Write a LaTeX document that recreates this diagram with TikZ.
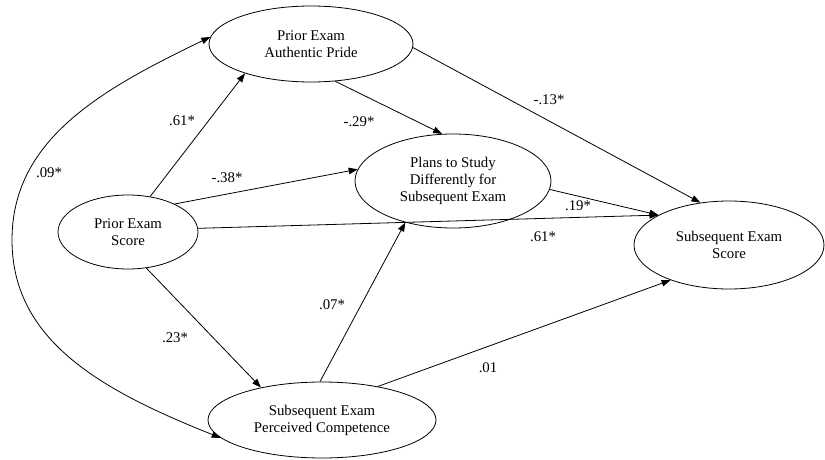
\documentclass[tikz,border=0pt]{standalone}
\usepackage{fontspec}
\setmainfont{Liberation Serif}
\usetikzlibrary{shapes.geometric,arrows.meta}

\tikzset{every picture/.style={line width=0.8pt}}
\tikzset{
	latent/.style={draw, ellipse, inner sep=0pt, align=center, font=\fontsize{14.8}{17}\selectfont},
	coef/.style={inner sep=0.75pt, font=\fontsize{14.8}{17}\selectfont},
	path/.style={-{Triangle[length=9pt,width=6.5pt]}},
	cov/.style={{Triangle[length=9pt,width=6.5pt]}-{Triangle[length=9pt,width=6.5pt]}}
}

\begin{document}
\begin{tikzpicture}[x=1pt,y=1pt,yscale=-1]
	\path[use as bounding box] (0,0) rectangle (825,460);
	
	%Ellipses
	\node [latent, minimum width=204, minimum height=76] (pride) at (311,44) {Prior Exam\\Authentic Pride};
	\node [latent, minimum width=196, minimum height=94] (plans) at (453,181) {Plans to Study\\Differently for\\Subsequent Exam};
	\node [latent, minimum width=140, minimum height=74] (prior) at (128,232) {Prior Exam\\Score};
	\node [latent, minimum width=190, minimum height=88] (score) at (729,245) {Subsequent Exam\\Score};
	\node [latent, minimum width=228, minimum height=76] (comp) at (322,420) {Subsequent Exam\\Perceived Competence};
	
	%Paths
	\draw [path] (prior.58) -- (pride.204);
	\draw [path] (prior.31) -- (plans.173);
	\draw [path] (prior.3) -- (score.157);
	\draw [path] (prior.297) -- (comp.152);
	\draw [path] (pride.303) -- (plans.103);
	\draw [path] (pride.358) -- (score.124);
	\draw [path] (plans.355) -- (score.157);
	\draw [path] (comp.93) -- (plans.221);
	\draw [path] (comp.31) -- (score.211);
	%Covariance
	\draw [cov] (pride.176) .. controls (100,90) and (12,140) .. (12,240) .. controls (12,340) and (100,390) .. (comp.190);
	
	% Text Node
	\node [coef] (c61a) at (182,121) {.61*};
	\node [coef] (c38) at (227,178) {-.38*};
	\node [coef] (c29) at (359,122) {-.29*};
	\node [coef] (c13) at (549,100) {-.13*};
	\node [coef] (c19) at (578,206) {.19*};
	\node [coef] (c61b) at (543,237) {.61*};
	\node [coef] (c07) at (332,305) {.07*};
	\node [coef] (c23) at (175,338) {.23*};
	\node [coef] (c01) at (488,368) {.01};
	\node [coef] (c09) at (49,173) {.09*};
	
\end{tikzpicture}
\end{document}
